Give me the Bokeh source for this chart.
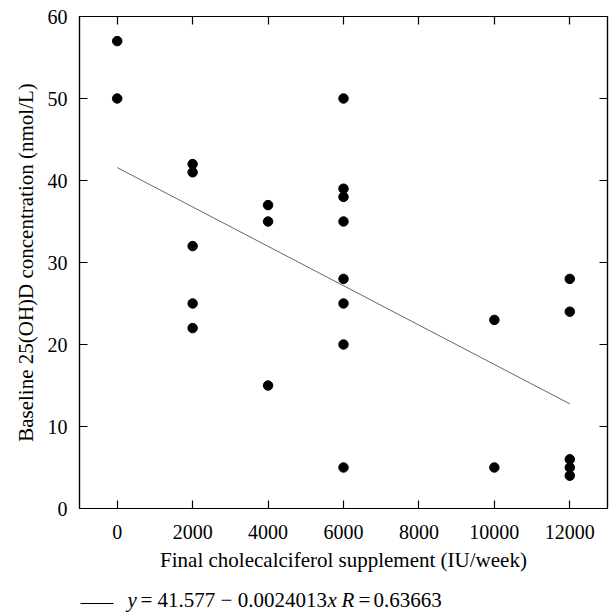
from bokeh.plotting import figure
from bokeh.layouts import column
from bokeh.models import (LinearAxis, Range1d, FixedTicker, CustomJSTickFormatter,
                          Label, ColumnDataSource)
from bokeh.embed import file_html
from bokeh.resources import INLINE

# ---- data ----
supplement = [0, 0,
              2000, 2000, 2000, 2000, 2000,
              4000, 4000, 4000,
              6000, 6000, 6000, 6000, 6000, 6000, 6000, 6000,
              10000, 10000,
              12000, 12000, 12000, 12000, 12000]
baseline = [57, 50,
            42, 41, 32, 25, 22,
            37, 35, 15,
            50, 39, 38, 35, 28, 25, 20, 5,
            23, 5,
            28, 24, 6, 5, 4]
fit_intercept = 41.577
fit_slope = -0.0024013
fit_r = 0.63663
fit_x = [0, 12000]
x_ticks = [0, 2000, 4000, 6000, 8000, 10000, 12000]
y_ticks = [0, 10, 20, 30, 40, 50, 60]
x_label = "Final cholecalciferol supplement (IU/week)"
y_label = "Baseline 25(OH)D concentration (nmol/L)"

FONT = "Liberation Serif"
LEFT, RIGHT = 79, 3

p = figure(width=610, height=580, output_backend="svg", toolbar_location=None,
           x_range=Range1d(-1000, 13000), y_range=Range1d(0, 60),
           min_border_left=LEFT, min_border_right=RIGHT, min_border_top=16,
           min_border_bottom=72)
p.grid.visible = False
p.outline_line_color = "black"
p.outline_line_width = 1.2
p.background_fill_color = "white"
p.border_fill_color = "white"

def style_axis(ax, ticks, labels=True):
    ax.ticker = FixedTicker(ticks=ticks)
    ax.minor_tick_line_color = None
    ax.major_tick_in = 8
    ax.major_tick_out = 0
    ax.major_tick_line_color = "black"
    ax.major_tick_line_width = 1.2
    ax.axis_line_color = "black"
    ax.axis_line_width = 1.2
    ax.major_label_text_font = FONT
    ax.major_label_text_font_size = "20px"
    ax.major_label_text_color = "black"
    ax.axis_label_text_font = FONT
    ax.axis_label_text_font_size = "21px"
    ax.axis_label_text_font_style = "normal"
    ax.axis_label_text_color = "black"
    if not labels:
        ax.formatter = CustomJSTickFormatter(code="return ''")
        ax.major_label_standoff = 0

style_axis(p.xaxis[0], x_ticks)
style_axis(p.yaxis[0], y_ticks)
p.xaxis[0].axis_label = x_label
p.yaxis[0].axis_label = y_label
p.xaxis[0].major_label_standoff = 16
p.xaxis[0].axis_label_standoff = 6
p.yaxis[0].major_label_standoff = 12
p.yaxis[0].axis_label_standoff = 7

top = LinearAxis()
style_axis(top, x_ticks, labels=False)
p.add_layout(top, "above")
right = LinearAxis()
style_axis(right, y_ticks, labels=False)
p.add_layout(right, "right")

# regression line
fit_y = [fit_intercept + fit_slope * v for v in fit_x]
p.line(fit_x, fit_y, line_color="#555555", line_width=0.9)

# points
src = ColumnDataSource(dict(x=supplement, y=baseline))
p.scatter("x", "y", source=src, size=9.5, fill_color="black", line_color="black")

# ---- legend row below the plot (pixel coordinates, y from top of row) ----
q = figure(width=610, height=36, output_backend="svg", toolbar_location=None,
           x_range=Range1d(LEFT, 610 - RIGHT), y_range=Range1d(36, 0),
           x_axis_location=None, y_axis_location=None, title=None,
           min_border_left=LEFT, min_border_right=RIGHT,
           min_border_top=0, min_border_bottom=0, outline_line_color=None)
q.grid.visible = False
q.border_fill_color = "white"
q.background_fill_color = "white"
q.line([80, 113], [23, 23], line_color="black", line_width=1)

def lab(x, text, italic=False):
    q.add_layout(Label(x=x, y=19, text=text, text_font=FONT,
                       text_font_size="21px", text_color="black",
                       text_font_style="italic" if italic else "normal",
                       text_baseline="alphabetic", text_align="left"))

lab(127, "y", True)
lab(140, f"= {fit_intercept} \u2212 {abs(fit_slope):.7f}")
lab(327, "x", True)
lab(341, "R", True)
lab(358, "=")
lab(373, f"{fit_r}")

open("out.html", "w").write(file_html(column(p, q, spacing=0), INLINE))
